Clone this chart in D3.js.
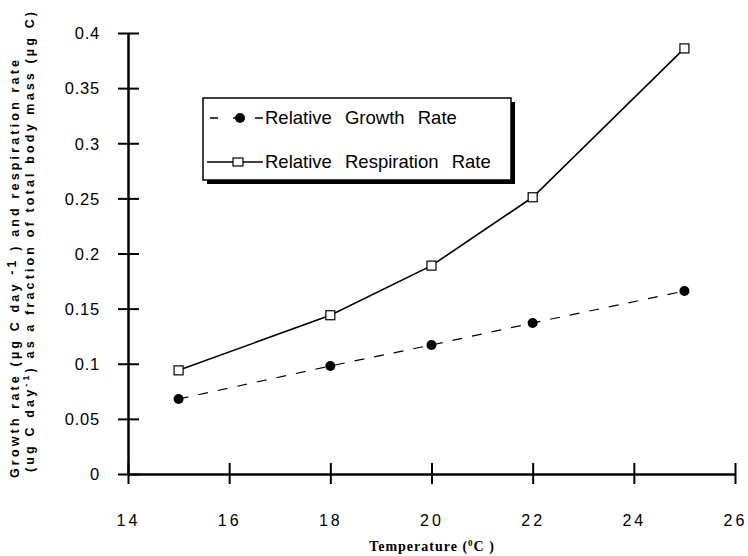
<!DOCTYPE html>
<html>
<head>
<meta charset="utf-8">
<script src="https://cdn.jsdelivr.net/npm/d3@7"></script>
<style>
    html, body { margin: 0; padding: 0; background: #fff; }
    svg { display: block; font-family: "Liberation Sans", Arial, sans-serif; }
</style>
</head>
<body>
<svg id="chart" width="748" height="556"></svg>
<script>

    // data
    var temps = [15, 18, 20, 22, 25];
    var growth = [0.068, 0.098, 0.117, 0.137, 0.166];
    var respiration = [0.094, 0.144, 0.189, 0.251, 0.386];

    var xTicks = [14, 16, 18, 20, 22, 24, 26];
    var yTicks = [0, 0.05, 0.1, 0.15, 0.2, 0.25, 0.3, 0.35, 0.4];
    var yTickLabels = ['0', '0.05', '0.1', '0.15', '0.2', '0.25', '0.3', '0.35', '0.4'];

    var seriesNames = ['Relative Growth Rate', 'Relative Respiration Rate'];

    var svg = d3.select('#chart');

    var x = d3.scaleLinear().domain([14, 26]).range([128, 735]);
    var y = d3.scaleLinear().domain([0, 0.4]).range([474, 33]);

    // Y axis
    var yAxis = d3.axisLeft(y)
        .tickValues(yTicks)
        .tickFormat(function(d, i) { return yTickLabels[i]; })
        .tickSizeOuter(0);

    var gy = svg.append('g')
        .attr('transform', 'translate(' + x(14) + ',0)')
        .call(yAxis);
    gy.select('.domain').attr('stroke', '#000').attr('stroke-width', 2.5);
    gy.selectAll('.tick line').attr('x1', 11).attr('x2', -10)
        .attr('stroke', '#000').attr('stroke-width', 2);
    gy.selectAll('.tick text').attr('x', -28).attr('dy', '0.35em')
        .attr('font-size', 16.5).attr('fill', '#000').attr('letter-spacing', 0.8)
        .attr('font-family', '"Liberation Sans", Arial, sans-serif');

    // X axis
    var xAxis = d3.axisBottom(x)
        .tickValues(xTicks)
        .tickSizeOuter(0);

    var gx = svg.append('g')
        .attr('transform', 'translate(0,' + y(0) + ')')
        .call(xAxis);
    gx.select('.domain').attr('stroke', '#000').attr('stroke-width', 2.5);
    gx.selectAll('.tick line').attr('y1', -11).attr('y2', 10)
        .attr('stroke', '#000').attr('stroke-width', 2);
    gx.selectAll('.tick text').attr('y', 41).attr('dy', '0.71em')
        .attr('font-size', 16).attr('fill', '#000').attr('letter-spacing', 3)
        .attr('font-family', '"Liberation Sans", Arial, sans-serif');

    // axis titles
    var xt = svg.append('text')
        .attr('x', 432).attr('y', 551)
        .attr('text-anchor', 'middle')
        .attr('font-family', '"Liberation Serif", "Times New Roman", serif')
        .attr('font-weight', 'bold').attr('font-size', 14).attr('letter-spacing', 1);
    xt.append('tspan').text('Temperature    (');
    xt.append('tspan').attr('dy', -5).attr('font-size', 9).text('0');
    xt.append('tspan').attr('dy', 5).text('C )');

    var yl1 = svg.append('text')
        .attr('transform', 'translate(19,478) rotate(-90)')
        .attr('font-weight', 'bold').attr('font-size', 12.5)
        .attr('textLength', 418).attr('lengthAdjust', 'spacing');
    yl1.append('tspan').text('Growth  rate  (µg C day ');
    yl1.append('tspan').attr('dy', -3).text('-1');
    yl1.append('tspan').attr('dy', 3).text(' )  and  respiration  rate');

    var yl2 = svg.append('text')
        .attr('transform', 'translate(34,472) rotate(-90)')
        .attr('font-weight', 'bold').attr('font-size', 12.5)
        .attr('textLength', 460).attr('lengthAdjust', 'spacing');
    yl2.append('tspan').text('(ug C day');
    yl2.append('tspan').attr('dy', -5).attr('font-size', 9).text('-1');
    yl2.append('tspan').attr('dy', 5).text(')  as  a  fraction  of  total  body  mass  (µg C)');

    // lines
    var line = d3.line()
        .x(function(d, i) { return x(temps[i]); })
        .y(function(d) { return y(d); });

    svg.append('path')
        .datum(respiration)
        .attr('d', line)
        .attr('fill', 'none').attr('stroke', '#000').attr('stroke-width', 1.6);

    svg.append('path')
        .datum(growth)
        .attr('d', line)
        .attr('fill', 'none').attr('stroke', '#000').attr('stroke-width', 1.2)
        .attr('stroke-dasharray', '10,10');

    svg.selectAll('rect.resp')
        .data(respiration)
        .enter().append('rect')
        .attr('class', 'resp')
        .attr('x', function(d, i) { return x(temps[i]) - 4.5; })
        .attr('y', function(d) { return y(d) - 4.5; })
        .attr('width', 9).attr('height', 9)
        .attr('fill', '#fff').attr('stroke', '#000').attr('stroke-width', 1.2);

    svg.selectAll('circle.growth')
        .data(growth)
        .enter().append('circle')
        .attr('class', 'growth')
        .attr('cx', function(d, i) { return x(temps[i]); })
        .attr('cy', function(d) { return y(d); })
        .attr('r', 5)
        .attr('fill', '#000');

    // legend box with drop shadow
    var lg = svg.append('g');
    lg.append('rect')
        .attr('x', 207).attr('y', 102).attr('width', 308).attr('height', 82)
        .attr('fill', '#000');
    lg.append('rect')
        .attr('x', 203).attr('y', 98).attr('width', 308).attr('height', 82)
        .attr('fill', '#fff').attr('stroke', '#000').attr('stroke-width', 1.5);

    lg.append('line')
        .attr('x1', 210).attr('x2', 263).attr('y1', 118).attr('y2', 118)
        .attr('stroke', '#000').attr('stroke-width', 1.5).attr('stroke-dasharray', '8,15,8,14,8');
    lg.append('circle').attr('cx', 240).attr('cy', 118).attr('r', 5).attr('fill', '#000');

    lg.append('line')
        .attr('x1', 207).attr('x2', 263).attr('y1', 162).attr('y2', 162)
        .attr('stroke', '#000').attr('stroke-width', 1.5);
    lg.append('rect').attr('x', 233).attr('y', 158).attr('width', 10).attr('height', 8)
        .attr('fill', '#fff').attr('stroke', '#000').attr('stroke-width', 1.2);

    lg.selectAll('text.leg')
        .data(seriesNames)
        .enter().append('text')
        .attr('class', 'leg')
        .attr('x', 265)
        .attr('y', function(d, i) { return i === 0 ? 124 : 168; })
        .attr('font-size', 18.5)
        .attr('word-spacing', 8)
        .text(function(d) { return d; });

</script>
</body>
</html>
